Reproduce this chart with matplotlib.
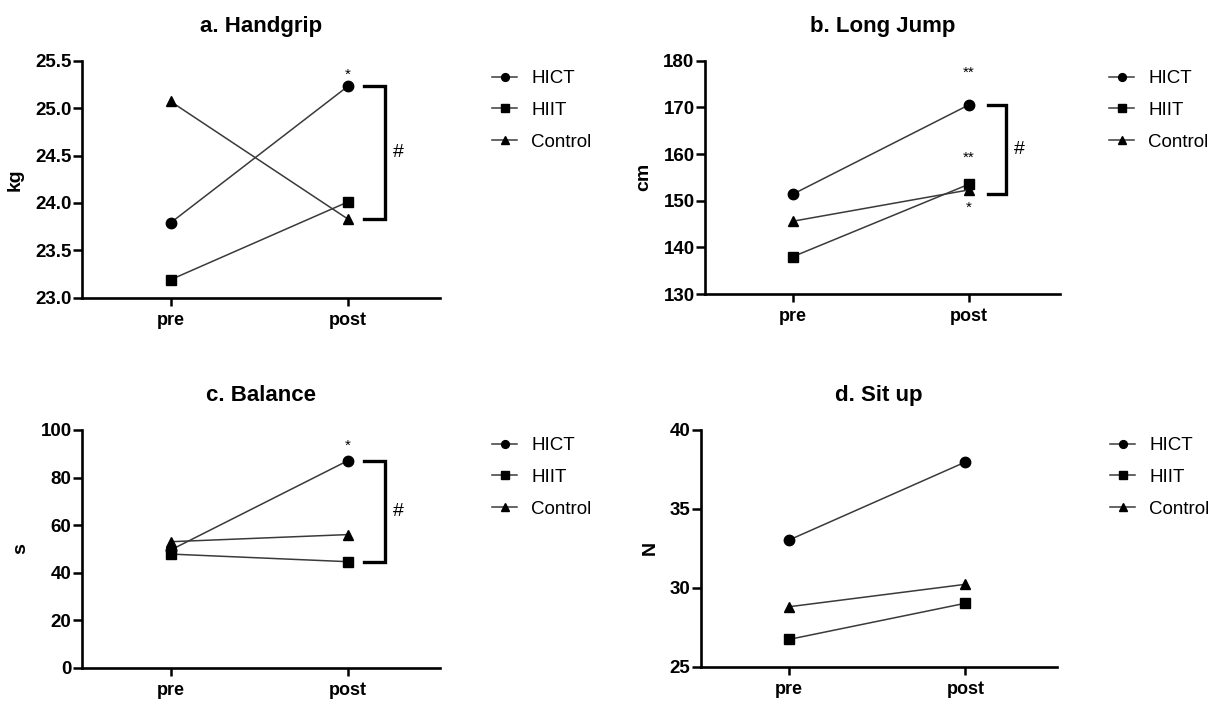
import matplotlib
matplotlib.use("Agg")
import matplotlib.pyplot as plt

plt.rcParams['font.family'] = ['Liberation Sans', 'DejaVu Sans']

times = ["pre", "post"]
groups = ["HICT", "HIIT", "Control"]

handgrip_hict = [23.79, 25.23]
handgrip_hiit = [23.19, 24.01]
handgrip_control = [25.07, 23.83]

longjump_hict = [151.4, 170.5]
longjump_hiit = [138.0, 153.5]
longjump_control = [145.6, 152.3]

balance_hict = [49.5, 87.1]
balance_hiit = [47.8, 44.6]
balance_control = [53.0, 56.0]

situp_hict = [33.03, 37.97]
situp_hiit = [26.73, 29.02]
situp_control = [28.8, 30.22]

panels = [
    dict(title="a. Handgrip", ylabel="kg", ylim=(23.0, 25.5), yticks=[23.0, 23.5, 24.0, 24.5, 25.0, 25.5], fmt="{:.1f}",
         data=[handgrip_hict, handgrip_hiit, handgrip_control],
         rect=[82, 60.7, 440, 297.7], legend=(492, 70)),
    dict(title="b. Long Jump", ylabel="cm", ylim=(130, 180), yticks=[130, 140, 150, 160, 170, 180], fmt="{:.0f}",
         data=[longjump_hict, longjump_hiit, longjump_control],
         rect=[705, 60.7, 1060, 294], legend=(1109, 70)),
    dict(title="c. Balance", ylabel="s", ylim=(0, 100), yticks=[0, 20, 40, 60, 80, 100], fmt="{:.0f}",
         data=[balance_hict, balance_hiit, balance_control],
         rect=[82, 430, 440, 667.7], legend=(492, 437)),
    dict(title="d. Sit up", ylabel="N", ylim=(25, 40), yticks=[25, 30, 35, 40], fmt="{:.0f}",
         data=[situp_hict, situp_hiit, situp_control],
         rect=[701, 430, 1057, 666.7], legend=(1110, 437)),
]

markers = ["o", "s", "^"]
msizes = [7.5, 7.0, 7.0]

W, H = 1215, 702
fig = plt.figure(figsize=(W / 100, H / 100), dpi=100)

axes = []
for p in panels:
    x0, y0, x1, y1 = p["rect"]
    ax = fig.add_axes([x0 / W, 1 - y1 / H, (x1 - x0) / W, (y1 - y0) / H])
    axes.append(ax)
    xs = list(range(len(times)))
    for vals, g, m, ms in zip(p["data"], groups, markers, msizes):
        ax.plot(xs, vals, color="#3a3a3a", lw=1.1, marker=m, markersize=ms,
                markerfacecolor="black", markeredgecolor="black", label=g, clip_on=False, zorder=3)
    ax.set_xlim(-0.5, 1.52)
    ax.set_ylim(*p["ylim"])
    ax.set_xticks(xs)
    ax.set_xticklabels(times, fontsize=13, fontweight="bold")
    ax.set_yticks(p["yticks"])
    ax.set_yticklabels([p["fmt"].format(v) for v in p["yticks"]], fontsize=13.5, fontweight="bold")
    ax.set_ylabel(p["ylabel"], fontsize=14, fontweight="bold", labelpad=8)
    ax.set_title(p["title"], fontsize=16, fontweight="bold", pad=21)
    for s in ["top", "right"]:
        ax.spines[s].set_visible(False)
    for s in ["left", "bottom"]:
        ax.spines[s].set_linewidth(1.9)
    ax.tick_params(axis="x", direction="out", length=6, width=1.8, pad=4, colors="black")
    ax.tick_params(axis="y", direction="out", length=6.5, width=1.8, pad=1, colors="black")
    lx, ly = p["legend"]
    ax.legend(loc="upper left", bbox_to_anchor=(lx / W, 1 - ly / H), bbox_transform=fig.transFigure,
              frameon=False, fontsize=13.5, handlelength=1.35, handletextpad=0.75, labelspacing=0.78,
              borderpad=0, borderaxespad=0, markerscale=0.75)


def bracket(ax, ytop, ybot, x0=1.09, x1=1.21):
    ax.plot([x0, x1, x1, x0], [ytop, ytop, ybot, ybot], color="black", lw=2.4,
            clip_on=False, solid_joinstyle="miter")
    ax.text(x1 + 0.045, (ytop + ybot) / 2, "#", fontsize=14, va="center", ha="left")


def star(ax, y, txt, dy):
    ax.annotate(txt, xy=(1, y), xytext=(0, dy), textcoords="offset points",
                ha="center", va="center", fontsize=11)

# a
bracket(axes[0], handgrip_hict[1], handgrip_control[1])
star(axes[0], handgrip_hict[1], "*", 8)
# b
bracket(axes[1], longjump_hict[1], longjump_control[1] - 0.8, x0=1.11, x1=1.21)
star(axes[1], longjump_hict[1], "**", 23)
star(axes[1], longjump_hiit[1], "**", 19)
star(axes[1], longjump_control[1], "*", -13)
# c
bracket(axes[2], balance_hict[1], balance_hiit[1])
star(axes[2], balance_hict[1], "*", 11)

fig.savefig("out.png", dpi=100)
